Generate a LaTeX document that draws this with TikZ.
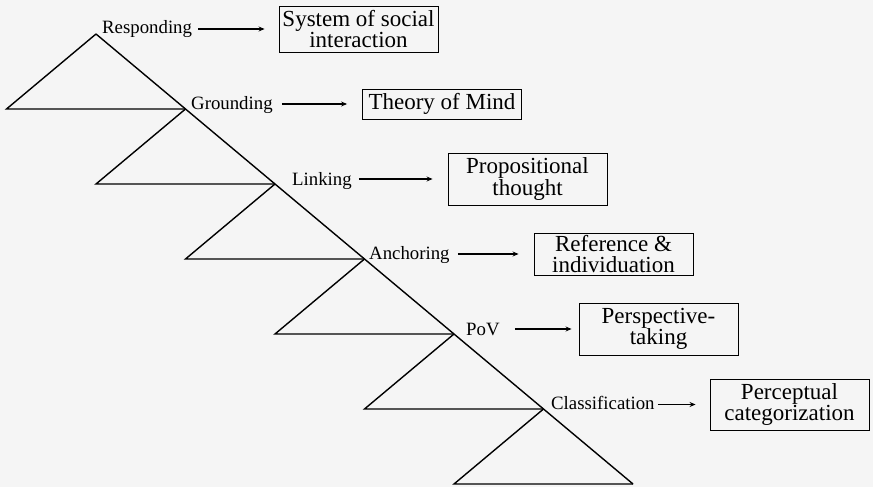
\documentclass[tikz,border=0pt]{standalone}
\usepackage{fontspec}
\setmainfont{Liberation Serif}
\usetikzlibrary{arrows.meta,calc}
\definecolor{bgcol}{RGB}{245,245,245}
\begin{document}
\begin{tikzpicture}[x=1pt,y=-1pt,
  tri/.style={line width=1.4pt,line join=miter},
  lbl/.style={anchor=base west,inner sep=0pt,font=\fontsize{18.8}{20}\selectfont},
  outcome/.style={draw,line width=0.9pt,minimum width=159pt,
    inner xsep=0pt,inner ysep=0pt,align=center,font=\fontsize{23}{21.5}\selectfont},
  arr/.style={-{Stealth[length=6pt,width=5pt]},line width=1.3pt}]
\fill[bgcol] (0,0) rectangle (873,487);
\useasboundingbox (0,0) rectangle (873,487);
% apexes of the stepped triangles
\foreach \i in {0,...,6}{
  \coordinate (A\i) at ({96+89.5*\i},{34+75*\i});
}
\foreach \i in {0,...,5}{
  \coordinate (L\i) at ($(A\i)+(-89.5,75)$);
}
\draw[tri] (A0) -- (A6);
\foreach \i/\j in {0/1,1/2,2/3,3/4,4/5,5/6}{
  \draw[tri] (A\i) -- (L\i) -- (A\j);
}
% stage labels
\node[lbl] (l1) at (102,34) {Responding};
\node[lbl] (l2) at (191,109) {Grounding};
\node[lbl] (l3) at (292,185) {Linking};
\node[lbl] (l4) at (369,259) {Anchoring};
\node[lbl] (l5) at (466,335) {PoV};
\node[lbl] (l6) at (551,409) {Classification};
% outcome boxes
\node[outcome,minimum height=46pt] (b1) at (358.5,29) {System of social\\interaction};
\node[outcome,minimum height=30pt] (b2) at (442,104) {Theory of Mind};
\node[outcome,minimum height=52pt] (b3) at (527.5,179) {Propositional\\thought};
\node[outcome,minimum height=42pt,font=\fontsize{23}{20.5}\selectfont] (b4) at (613.5,254) {Reference \&\\individuation};
\node[outcome,minimum height=52pt] (b5) at (658.5,329) {Perspective-\\taking};
\node[outcome,minimum height=51pt,font=\fontsize{23}{21.5}\selectfont] (b6) at (789.5,404.5) {Perceptual\\categorization};
% arrows from stages to outcomes
\draw[arr,shorten <=6pt,shorten >=14pt] (b1.west -| l1.east) -- (b1.west);
\draw[arr,shorten <=9pt,shorten >=15pt] (b2.west -| l2.east) -- (b2.west);
\draw[arr,shorten <=7pt,shorten >=15pt] (b3.west -| l3.east) -- (b3.west);
\draw[arr,shorten <=8pt,shorten >=15pt] (b4.west -| l4.east) -- (b4.west);
\draw[arr,shorten <=15pt,shorten >=7pt] (b5.west -| l5.east) -- (b5.west);
\draw[arr,shorten <=3pt,shorten >=14pt] (b6.west -| l6.east) -- (b6.west);
\end{tikzpicture}
\end{document}
